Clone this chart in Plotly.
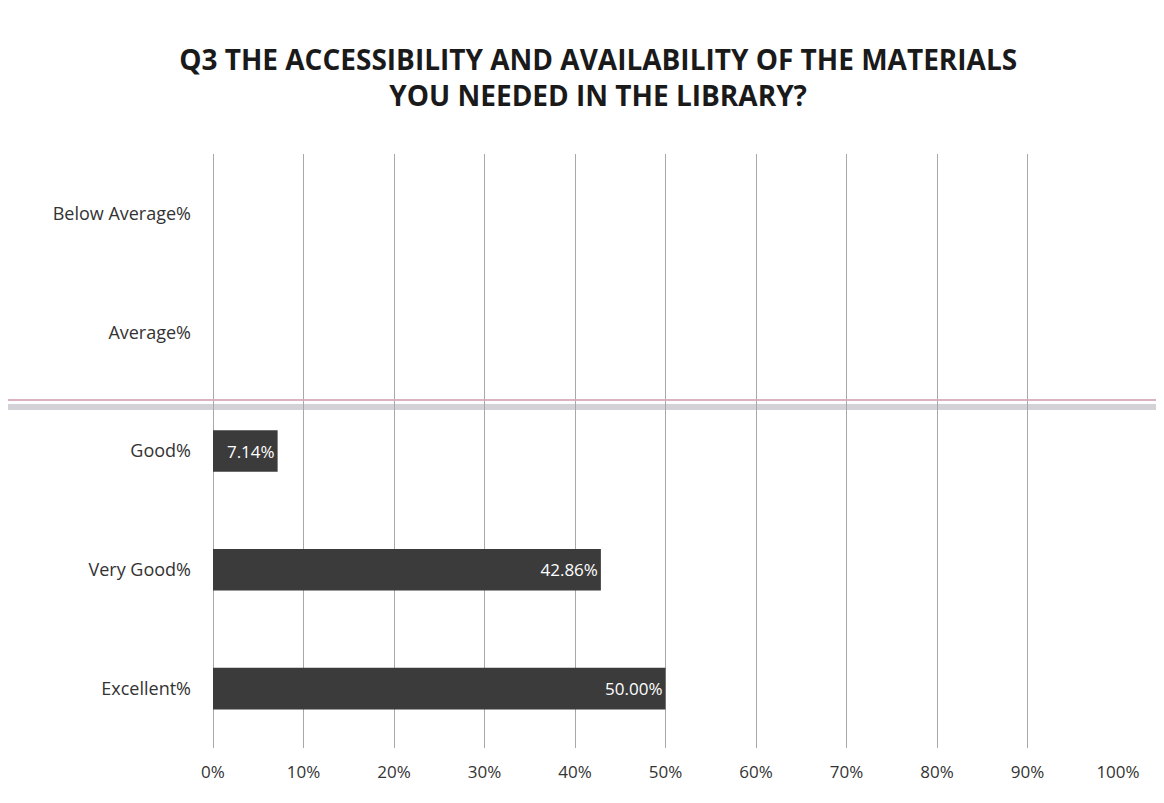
import plotly.graph_objects as go

categories = ["Excellent%", "Very Good%", "Good%", "Average%", "Below Average%"]
values = [50.00, 42.86, 7.14, 0, 0]
labels = ["50.00%", "42.86%", "7.14%", "", ""]
tick_vals = [0, 10, 20, 30, 40, 50, 60, 70, 80, 90, 100]
tick_text = ["0%", "10%", "20%", "30%", "40%", "50%", "60%", "70%", "80%", "90%", "100%"]

fig = go.Figure()
fig.add_trace(go.Bar(
    y=categories, x=values, orientation="h",
    marker=dict(color="#3b3b3b", line=dict(width=0)),
    text=labels, textposition="inside", insidetextanchor="end",
    textfont=dict(color="white", size=17, family="Open Sans"),
    cliponaxis=False,
))

fig.update_layout(
    width=1164, height=803,
    paper_bgcolor="white", plot_bgcolor="white",
    margin=dict(l=205, r=54, t=146, b=63),
    bargap=0.65,
    showlegend=False,
    uniformtext=dict(minsize=17, mode="show"),
    title=dict(
        text="<b>Q3 THE ACCESSIBILITY AND AVAILABILITY OF THE MATERIALS<br>YOU NEEDED IN THE LIBRARY?</b>",
        x=0.507, xanchor="center", yref="container", y=0.923, yanchor="top",
        font=dict(family="Open Sans", size=28, color="#1a1a1a"),
    ),
    xaxis=dict(
        range=[0, 100], tickvals=tick_vals, ticktext=tick_text,
        showgrid=True, gridcolor="#a8a8a8", gridwidth=1,
        zeroline=True, zerolinecolor="#a8a8a8", zerolinewidth=1,
        showline=False, ticks="",
        tickfont=dict(family="Open Sans", size=17, color="#333333"),
        ticklabelstandoff=12,
    ),
    yaxis=dict(
        categoryorder="array", categoryarray=categories,
        showgrid=False, showline=False, ticks="", ticklen=0,
        tickfont=dict(family="Open Sans", size=18, color="#333333"),
        ticklabelstandoff=21,
    ),
)

# scan artifact band across the page
yb = (803 - 63 - 392) / (803 - 146 - 63)
yg = (803 - 63 - 399) / (803 - 146 - 63)
fig.add_shape(type="line", xref="paper", yref="paper", x0=-0.25, x1=1.06,
              y0=yb, y1=yb,
              line=dict(color="rgba(215,170,185,0.9)", width=2), layer="above")
fig.add_shape(type="line", xref="paper", yref="paper", x0=-0.25, x1=1.06,
              y0=yg, y1=yg,
              line=dict(color="rgba(200,200,205,0.8)", width=6), layer="below")

fig.write_html("out.html")
